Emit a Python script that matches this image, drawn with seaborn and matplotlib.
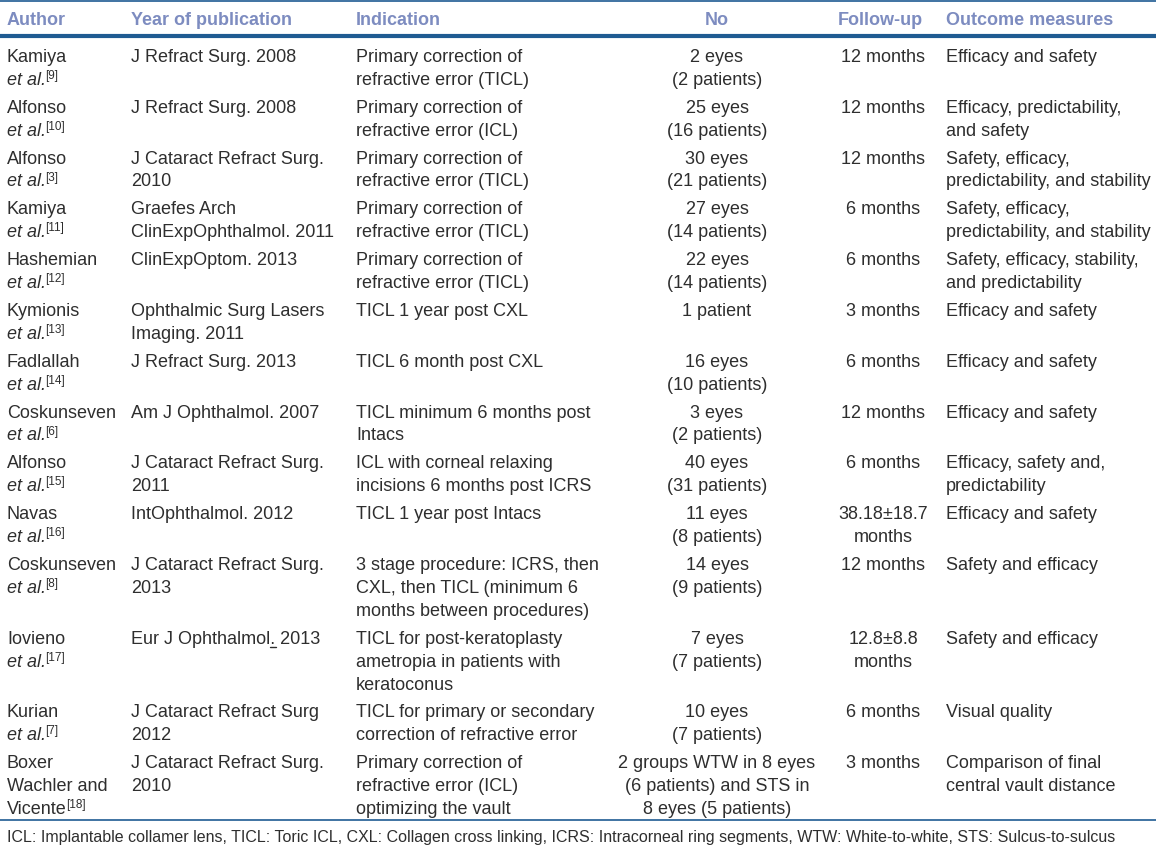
import matplotlib
matplotlib.use("Agg")
import matplotlib.pyplot as plt
import seaborn as sns

# ===============================
# TABLE DATA
# ===============================
headers = ["Author", "Year of publication", "Indication", "No", "Follow-up", "Outcome measures"]

authors = ["Kamiya", "Alfonso", "Alfonso", "Kamiya", "Hashemian", "Kymionis", "Fadlallah",
           "Coskunseven", "Alfonso", "Navas", "Coskunseven", "Iovieno", "Kurian",
           "Boxer\nWachler and\nVicente"]
refs = ["9", "10", "3", "11", "12", "13", "14", "6", "15", "16", "8", "17", "7", "18"]

journals = [
    "J Refract Surg. 2008",
    "J Refract Surg. 2008",
    "J Cataract Refract Surg.\n2010",
    "Graefes Arch\nClinExpOphthalmol. 2011",
    "ClinExpOptom. 2013",
    "Ophthalmic Surg Lasers\nImaging. 2011",
    "J Refract Surg. 2013",
    "Am J Ophthalmol. 2007",
    "J Cataract Refract Surg.\n2011",
    "IntOphthalmol. 2012",
    "J Cataract Refract Surg.\n2013",
    "Eur J Ophthalmol. 2013",
    "J Cataract Refract Surg\n2012",
    "J Cataract Refract Surg.\n2010",
]

indications = [
    "Primary correction of\nrefractive error (TICL)",
    "Primary correction of\nrefractive error (ICL)",
    "Primary correction of\nrefractive error (TICL)",
    "Primary correction of\nrefractive error (TICL)",
    "Primary correction of\nrefractive error (TICL)",
    "TICL 1 year post CXL",
    "TICL 6 month post CXL",
    "TICL minimum 6 months post\nIntacs",
    "ICL with corneal relaxing\nincisions 6 months post ICRS",
    "TICL 1 year post Intacs",
    "3 stage procedure: ICRS, then\nCXL, then TICL (minimum 6\nmonths between procedures)",
    "TICL for post-keratoplasty\nametropia in patients with\nkeratoconus",
    "TICL for primary or secondary\ncorrection of refractive error",
    "Primary correction of\nrefractive error (ICL)\noptimizing the vault",
]

numbers = [
    "2 eyes\n(2 patients)", "25 eyes\n(16 patients)", "30 eyes\n(21 patients)",
    "27 eyes\n(14 patients)", "22 eyes\n(14 patients)", "1 patient",
    "16 eyes\n(10 patients)", "3 eyes\n(2 patients)", "40 eyes\n(31 patients)",
    "11 eyes\n(8 patients)", "14 eyes\n(9 patients)", "7 eyes\n(7 patients)",
    "10 eyes\n(7 patients)",
    "2 groups WTW in 8 eyes\n(6 patients) and STS in\n8 eyes (5 patients)",
]

followups = ["12 months", "12 months", "12 months", "6 months", "6 months", "3 months",
             "6 months", "12 months", "6 months", "38.18\u00b118.7\nmonths", "12 months",
             "12.8\u00b18.8\nmonths", "6 months", "3 months"]

outcomes = [
    "Efficacy and safety",
    "Efficacy, predictability,\nand safety",
    "Safety, efficacy,\npredictability, and stability",
    "Safety, efficacy,\npredictability, and stability",
    "Safety, efficacy, stability,\nand predictability",
    "Efficacy and safety",
    "Efficacy and safety",
    "Efficacy and safety",
    "Efficacy, safety and,\npredictability",
    "Efficacy and safety",
    "Safety and efficacy",
    "Safety and efficacy",
    "Visual quality",
    "Comparison of final\ncentral vault distance",
]

footnote = ("ICL: Implantable collamer lens, TICL: Toric ICL, CXL: Collagen cross linking, "
            "ICRS: Intracorneal ring segments, WTW: White-to-white, STS: Sulcus-to-sulcus")

# ===============================
# STYLE
# ===============================
sns.set_theme(style="white")
plt.rcParams["font.family"] = ["Liberation Sans", "DejaVu Sans"]

text_color = "#2e2e2e"
head_color = "#7d8cc0"
rule_color = "#1f5b92"
fs = 13
line_h = 22.9

fig = plt.figure(figsize=(11.56, 8.48), dpi=100)
ax = fig.add_axes([0, 0, 1, 1])
ax.set_xlim(0, 1156)
ax.set_ylim(848, 0)
ax.axis("off")
renderer = fig.canvas.get_renderer()

# column anchors: (x, alignment)
cols = [(7, "left"), (131, "left"), (356, "left"), (717, "center"), (883, "center"), (946, "left")]

# header
for (x, ha), h in zip(cols, headers):
    if h == "Follow-up":
        x, ha = 838, "left"
    ax.text(x, 25, h, ha=ha, va="baseline", fontsize=fs, fontweight="bold", color=head_color)

ax.axhline(1, color=rule_color, lw=1.2)
ax.axhline(36, color=rule_color, lw=3.0)


def draw_lines(x, y0, txt, ha):
    t = None
    for k, line in enumerate(txt.split("\n")):
        t = ax.text(x, y0 + k * line_h, line, ha=ha, va="baseline", fontsize=fs,
                    color=text_color)
    return t


def text_width(s):
    t = ax.text(0, 0, s, fontsize=fs)
    w = t.get_window_extent(renderer).width
    t.remove()
    return w


y = 62
for i in range(len(authors)):
    auth_lines = authors[i].split("\n")
    cells = [journals[i], indications[i], numbers[i], followups[i], outcomes[i]]
    n_lines = max([len(auth_lines) + (1 if len(auth_lines) == 1 else 0)] +
                  [c.count("\n") + 1 for c in cells])

    # author cell, last line carries the reference superscript
    last = draw_lines(7, y, authors[i], "left")
    if len(auth_lines) == 1:
        last = ax.text(7, y + line_h, "et al.", ha="left", va="baseline", fontsize=fs,
                       color=text_color, fontstyle="italic")
    bb = last.get_window_extent(renderer)
    base = last.get_position()[1]
    ax.text(bb.x1 - 0.5, base - 6, "[" + refs[i] + "]", ha="left", va="baseline",
            fontsize=8.5, color=text_color)

    for (x, ha), c in zip(cols[1:], cells):
        draw_lines(x, y, c, ha)
    if journals[i].startswith("Eur J"):
        # underlined full stop in the Iovieno journal entry
        x0 = 131 + text_width("Eur J Ophthalmol")
        ax.plot([x0, x0 + 6], [y + 3, y + 3], color=text_color, lw=1)
    y += n_lines * line_h + 5

ax.axhline(820, color=rule_color, lw=1.2)
ax.text(7, 842, footnote, ha="left", va="baseline", fontsize=11.55, color=text_color)

fig.savefig("out.png", dpi=100)
plt.close(fig)
